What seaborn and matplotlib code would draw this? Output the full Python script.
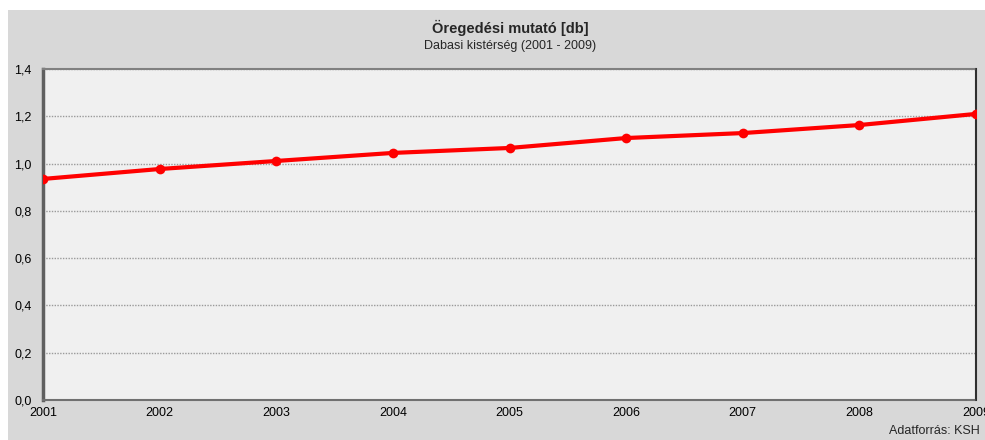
import matplotlib
matplotlib.use("Agg")
import matplotlib.pyplot as plt
import seaborn as sns
import pandas as pd
from matplotlib.patches import Rectangle

years = [2001, 2002, 2003, 2004, 2005, 2006, 2007, 2008, 2009]
values = [0.935, 0.977, 1.011, 1.045, 1.066, 1.108, 1.129, 1.163, 1.210]
y_ticks = [0.0, 0.2, 0.4, 0.6, 0.8, 1.0, 1.2, 1.4]

title = "Öregedési mutató [db]"
subtitle = "Dabasi kistérség (2001 - 2009)"
source = "Adatforrás: KSH"

sns.set_theme(style="white")
plt.rcParams["font.family"] = ["Liberation Sans", "DejaVu Sans"]

W, H = 985, 440
fig = plt.figure(figsize=(W / 100, H / 100), dpi=100)
fig.patch.set_facecolor("white")
# grey panel behind the chart, leaving a thin white margin top and left
fig.add_artist(Rectangle((8 / W, 0), 1, 1 - 10 / H, transform=fig.transFigure,
                         facecolor="#d8d8d8", edgecolor="none", zorder=0))

left, right, top, bottom = 43, 976, 69, 400
ax = fig.add_axes([left / W, 1 - bottom / H, (right - left) / W, (bottom - top) / H])
ax.set_facecolor("#f0f0f0")

df = pd.DataFrame({"year": years, "value": values})
sns.lineplot(data=df, x="year", y="value", ax=ax, color="#ff0000",
             linewidth=3, marker="o", markersize=7, markeredgewidth=0, zorder=3)

ax.set_xlim(years[0], years[-1])
ax.set_ylim(y_ticks[0], y_ticks[-1])
ax.set_xticks(years)
ax.set_xticklabels([str(y) for y in years])
ax.set_yticks(y_ticks)
ax.set_yticklabels([f"{v:.1f}".replace(".", ",") for v in y_ticks])
ax.set_xlabel("")
ax.set_ylabel("")

ax.grid(axis="y", color="#9a9a9a", linestyle=(0, (1, 1)), linewidth=1)
ax.grid(axis="x", visible=False)

ax.tick_params(axis="both", length=0, labelsize=9, colors="black")
ax.tick_params(axis="y", pad=8)
ax.tick_params(axis="x", pad=5)

ax.spines["left"].set_color("#606060")
ax.spines["left"].set_linewidth(2.5)
ax.spines["right"].set_color("#303030")
ax.spines["right"].set_linewidth(1.5)
ax.spines["bottom"].set_color("#707070")
ax.spines["bottom"].set_linewidth(1.5)
ax.spines["bottom"].set_linestyle((0, (1, 1)))
ax.spines["top"].set_color("#808080")
ax.spines["top"].set_linewidth(1.5)
ax.spines["top"].set_linestyle((0, (1, 1)))

fig.text(510 / W, 1 - 28 / H, title, ha="center", va="center",
         fontsize=10.5, fontweight="bold")
fig.text(510 / W, 1 - 46 / H, subtitle, ha="center", va="center", fontsize=9)
fig.text(980 / W, 1 - 431 / H, source, ha="right", va="center", fontsize=9)

fig.savefig("out.png", dpi=100)
